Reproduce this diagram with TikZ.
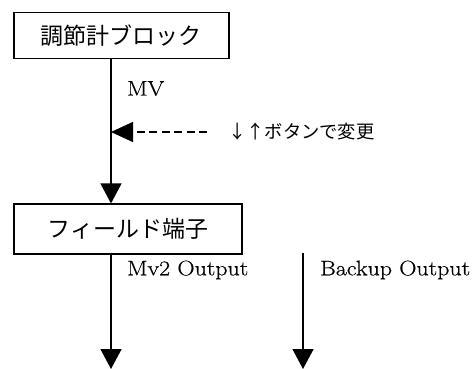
\documentclass[tikz,border=0pt]{standalone}
\usepackage{fontspec}
\newfontfamily\jp{Noto Sans CJK JP}
\newfontfamily\lat[FakeStretch=1.14,FakeBold=0.5]{Latin Modern Roman}
\usetikzlibrary{arrows.meta}
\tikzset{
  blockbox/.style={draw, line width=1.2pt, inner sep=0pt, font=\jp\fontsize{23}{25}\selectfont},
  flow/.style={line width=1.5pt, -{Triangle[length=20pt,width=21pt]}},
  dflow/.style={line width=1.5pt, dash pattern=on 8pt off 4.5pt, -{Triangle[length=22pt,width=20pt]}},
  lbl/.style={inner sep=0pt, anchor=west, font=\lat\fontsize{21}{22}\selectfont},
  jlbl/.style={inner sep=0pt, anchor=west, font=\jp\fontsize{18.3}{20}\selectfont}
}
\begin{document}
\begin{tikzpicture}[x=1pt,y=-1pt]
\useasboundingbox (0,0) rectangle (475,369);
\node[blockbox, minimum width=215pt, minimum height=46pt] (b1) at (121.5,35.5) {調節計ブロック};
\node[blockbox, minimum width=228pt, minimum height=50pt] (b2) at (128,229) {フィールド端子};
\coordinate (m) at (111,0);
\node[lbl] (mv) at (127,88.5) {MV};
\node[jlbl] (btn) at (228,132) {↓↑ボタンで変更};
\coordinate (dstart) at (207,132);
\coordinate (dtip) at (111,132);
\draw[flow] (b1.south -| m) -- (b2.north -| m);
\draw[dflow] (dstart) -- (dtip);
\node[lbl] (mv2) at (127,270) {Mv2 Output};
\node[lbl] (bk) at (320,270) {Backup Output};
\coordinate (o1) at (111,369);
\coordinate (o2s) at (303,253);
\coordinate (o2) at (303,369);
\draw[flow] (b2.south -| m) -- (o1);
\draw[flow] (o2s) -- (o2);
\end{tikzpicture}
\end{document}
